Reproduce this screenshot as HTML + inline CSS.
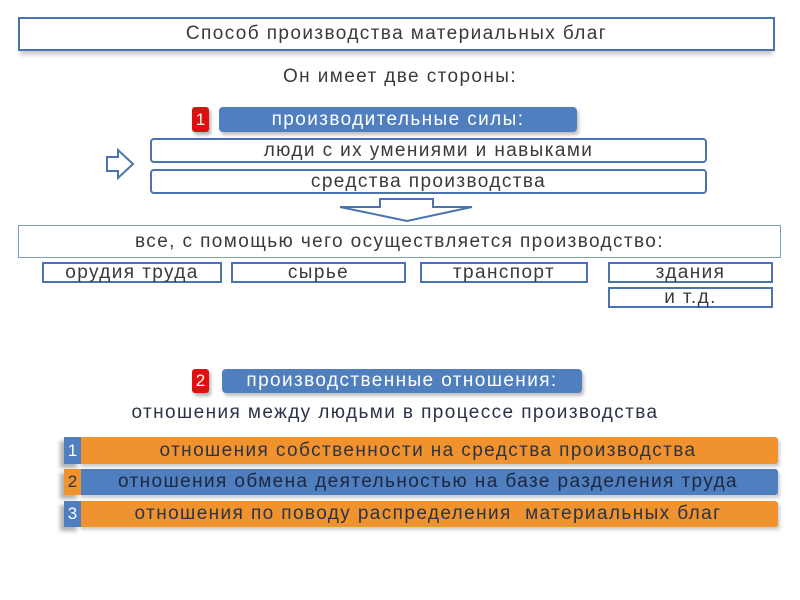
<!DOCTYPE html>
<html><head><meta charset="utf-8"><style>
body{margin:0;width:800px;height:600px;background:#fff;position:relative;overflow:hidden;font-family:"Liberation Sans","DejaVu Sans",sans-serif;color:#3a3a3a;letter-spacing:1.4px}
.a{position:absolute;box-sizing:border-box;display:flex;align-items:center;justify-content:center;white-space:nowrap}
.bx{border:2px solid #4a74b0;background:#fff}
.bl{background:#4f7fbf;color:#fff;border-radius:4px;box-shadow:2px 3px 3px rgba(0,0,0,.25)}
.rd{background:#e01010;color:#fff;border-radius:3px;box-shadow:2px 3px 3px rgba(0,0,0,.3);letter-spacing:0}
.or{background:#f0932f;color:#2b3346}
.bb{background:#4f7fbf;color:#1f2740}
.n{letter-spacing:0}
</style></head><body>
<div class="a bx" style="left:18px;top:17px;width:757px;height:34px;font-size:19px;box-shadow:0 6px 4px -2px rgba(0,0,0,.2)">Способ производства материальных благ</div>
<div class="a" style="left:0;top:64px;width:800px;height:26px;font-size:19px">Он имеет две стороны:</div>
<div class="a rd" style="left:192px;top:107px;width:17px;height:25px;font-size:17px">1</div>
<div class="a bl" style="left:219px;top:107px;width:358px;height:25px;font-size:19px">производительные силы:</div>
<div class="a bx" style="left:150px;top:138px;width:557px;height:25px;font-size:19px;border-radius:4px">люди с их умениями и навыками</div>
<div class="a bx" style="left:150px;top:169px;width:557px;height:25px;font-size:19px;border-radius:4px">средства производства</div>
<svg class="a" style="left:100px;top:145px" width="40" height="40"><polygon points="7,12 18,12 18,5 33,19 18,33 18,26 7,26" fill="#fff" stroke="#4a74b0" stroke-width="2"/></svg>
<svg class="a" style="left:330px;top:196px" width="150" height="28"><polygon points="50,3 103,3 103,11 142,11 77,25 10,11 50,11" fill="#fff" stroke="#4a74b0" stroke-width="2"/></svg>
<div class="a bx" style="left:18px;top:225px;width:763px;height:33px;font-size:19px;border-width:1px;border-color:#7a9ccc">все, с помощью чего осуществляется производство:</div>
<div class="a bx" style="left:42px;top:262px;width:180px;height:21px;font-size:19px">орудия труда</div>
<div class="a bx" style="left:231px;top:262px;width:175px;height:21px;font-size:19px">сырье</div>
<div class="a bx" style="left:420px;top:262px;width:168px;height:21px;font-size:19px">транспорт</div>
<div class="a bx" style="left:608px;top:262px;width:165px;height:21px;font-size:19px">здания</div>
<div class="a bx" style="left:608px;top:287px;width:165px;height:21px;font-size:19px">и т.д.</div>
<div class="a rd" style="left:192px;top:369px;width:17px;height:24px;font-size:17px">2</div>
<div class="a bl" style="left:222px;top:369px;width:360px;height:24px;font-size:19px">производственные отношения:</div>
<div class="a" style="left:80px;top:400px;width:630px;height:26px;font-size:19px;color:#2b3346">отношения между людьми в процессе производства</div>
<div class="a or" style="left:78px;top:437px;width:700px;height:27px;font-size:19px;border-radius:3px;box-shadow:2px 3px 3px rgba(0,0,0,.2)">отношения собственности на средства производства</div>
<div class="a bb n" style="left:64px;top:437px;width:17px;height:27px;font-size:17px;color:#fff;box-shadow:-4px 4px 4px rgba(0,0,0,.3)">1</div>
<div class="a bb" style="left:78px;top:469px;width:700px;height:26px;font-size:19px;border-radius:3px;box-shadow:2px 3px 3px rgba(0,0,0,.2)">отношения обмена деятельностью на базе разделения труда</div>
<div class="a or n" style="left:64px;top:469px;width:17px;height:26px;font-size:17px;box-shadow:-4px 4px 4px rgba(0,0,0,.3)">2</div>
<div class="a or" style="left:78px;top:501px;width:700px;height:26px;font-size:19px;border-radius:3px;box-shadow:2px 3px 3px rgba(0,0,0,.2)">отношения по поводу распределения&nbsp; материальных благ</div>
<div class="a bb n" style="left:64px;top:501px;width:17px;height:26px;font-size:17px;color:#fff;box-shadow:-4px 4px 4px rgba(0,0,0,.3)">3</div>
</body></html>
